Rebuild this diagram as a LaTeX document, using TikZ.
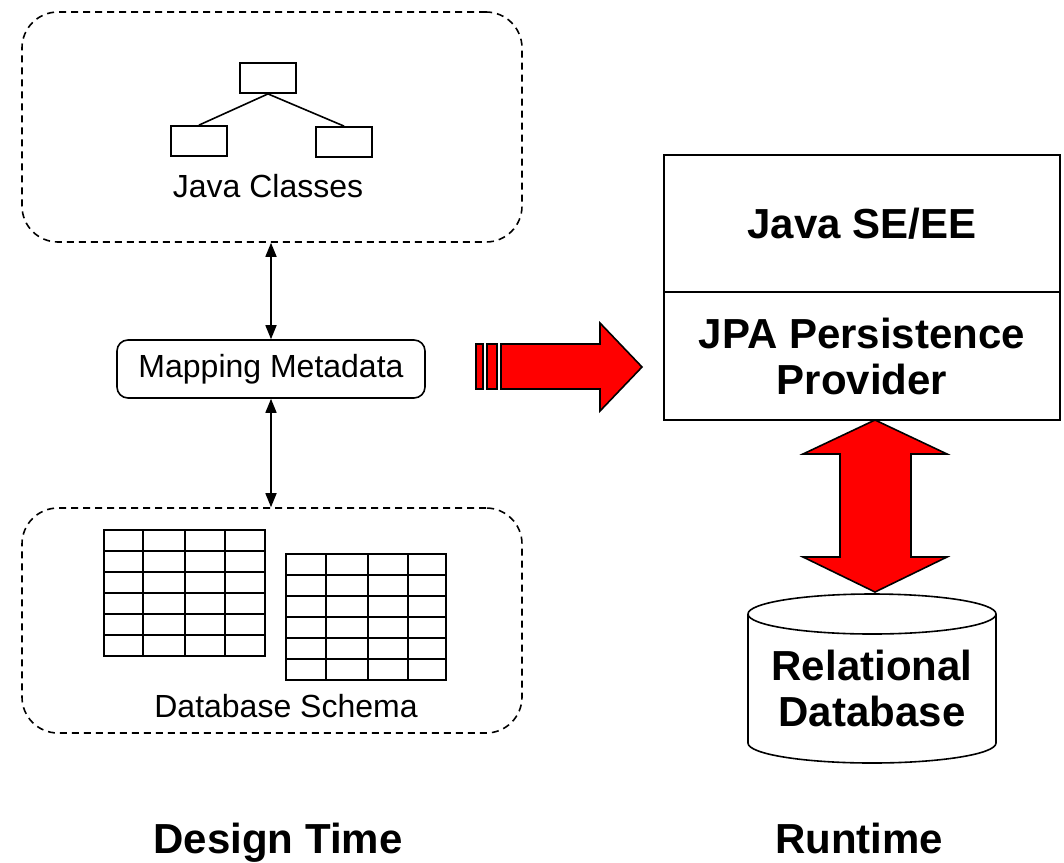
\documentclass[tikz,border=0pt]{standalone}
\usepackage{fontspec}
\setmainfont{Liberation Sans}
\usetikzlibrary{arrows.meta}
\definecolor{arrowred}{RGB}{255,0,0}
\begin{document}
\begin{tikzpicture}[x=1pt,y=-1pt,
  container/.style={draw, rounded corners=36pt, dash pattern=on 7pt off 5pt, line width=1.6pt, inner sep=0pt},
  classbox/.style={draw, line width=1.8pt, minimum width=56pt, minimum height=30pt, inner sep=0pt},
  mapbox/.style={draw, rounded corners=11pt, line width=1.6pt, minimum width=308pt, minimum height=58pt, inner sep=0pt, font=\fontsize{32}{36}\selectfont},
  plainlabel/.style={inner sep=0pt, font=\fontsize{32}{36}\selectfont},
  boldlabel/.style={inner sep=0pt, align=center, font=\fontsize{42}{46}\selectfont\bfseries},
  layer/.style={draw, line width=1.6pt, minimum width=396pt, inner sep=0pt, align=center, font=\fontsize{42}{46}\selectfont\bfseries},
  link/.style={line width=1.6pt, {Triangle[length=14pt,width=11pt]}-{Triangle[length=14pt,width=11pt]}},
  tree/.style={line width=1.6pt},
  grid/.style={line width=2.2pt},
  bigarrow/.style={fill=arrowred, draw=black, line width=1.6pt, line join=miter}
]
\useasboundingbox (0,0) rectangle (1064,862);

% containers
\node[container, minimum width=500pt, minimum height=230pt] (classes) at (272,127) {};
\node[container, minimum width=500pt, minimum height=225pt] (schema) at (272,620.5) {};

% class tree
\node[classbox] (c0) at (268,78) {};
\node[classbox] (c1) at (199,141) {};
\node[classbox] (c2) at (344,142) {};
\draw[tree] (c0.south) -- (c1.north);
\draw[tree] (c0.south) -- (c2.north);
\node[plainlabel] (jc) at (268,186) {Java Classes};

% mapping metadata
\node[mapbox] (map) at (271,369) {Mapping Metadata};
\draw[link] (map.north |- classes.south) -- (map.north);
\draw[link] (map.south) -- (map.south |- schema.north);

% tables
\draw[grid] (104,530) rectangle (265,656);
\foreach \x in {143,185,225} \draw[grid] (\x,530) -- (\x,656);
\foreach \y in {551,572,593,614,635} \draw[grid] (104,\y) -- (265,\y);
\draw[grid] (286,554) rectangle (446,680);
\foreach \x in {326,368,408} \draw[grid] (\x,554) -- (\x,680);
\foreach \y in {575,596,617,638,659} \draw[grid] (286,\y) -- (446,\y);
\node[plainlabel] (ds) at (286,706) {Database Schema};

% red right arrow
\draw[bigarrow] (476,344) rectangle (483,389);
\draw[bigarrow] (487,344) rectangle (497,389);
\draw[bigarrow] (501,344) -- (600,344) -- (600,323) -- (642,367) -- (600,411) -- (600,389) -- (501,389) -- cycle;

% runtime stack
\node[layer, minimum height=137pt] (jse) at (862,223.5) {Java SE/EE};
\node[layer, minimum height=128pt] (jpa) at (862,356) {JPA Persistence\\Provider};

% double arrow
\coordinate (dtop) at (875,420);
\coordinate (dbot) at (875,592);
\draw[bigarrow] (dtop) -- (947,454) -- (911,454) -- (911,557) -- (947,557) -- (dbot) -- (803,557) -- (840,557) -- (840,454) -- (803,454) -- cycle;

% cylinder
\draw[line width=1.6pt, fill=white] (748,614) -- (748,743) arc[start angle=180, end angle=0, x radius=124, y radius=20] -- (996,614);
\draw[line width=1.6pt, fill=white] (872,614) ellipse[x radius=124, y radius=20];
\node[boldlabel] (db) at (872,688) {Relational\\Database};

% captions
\node[boldlabel, anchor=base] (dt) at (278,853) {Design Time};
\node[boldlabel, anchor=base] (rt) at (859,853) {Runtime};
\end{tikzpicture}
\end{document}
